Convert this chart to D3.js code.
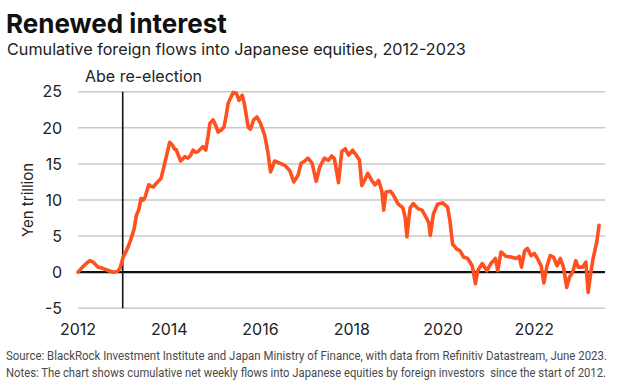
<!DOCTYPE html>
<html lang="en">
<head>
    <meta charset="UTF-8">
    <title>Renewed interest</title>
    <script src="https://d3js.org/d3.v7.min.js"></script>
    <style>
        body { margin: 0; background: #fff; }
        svg { display: block; font-family: Inter, "Noto Sans", sans-serif; }
        .grid line { stroke: #c9c9c9; stroke-width: 1.5; }
        .tick-label { font-size: 16px; fill: #222; }
        .note { font-family: Roboto, "Liberation Sans", sans-serif; font-size: 13px; fill: #4a4a4a; }
    </style>
</head>
<body>
<div id="chart"></div>
<script>
    // decimal year and cumulative flows (Yen trillion)
    const dates = [
        2012.00, 2012.10, 2012.18, 2012.26, 2012.33, 2012.44, 2012.52, 2012.59, 2012.68, 2012.77, 2012.86, 2012.92,
        2012.99, 2013.07, 2013.14, 2013.23, 2013.28, 2013.33, 2013.38, 2013.43, 2013.47, 2013.55, 2013.60, 2013.65,
        2013.73, 2013.82, 2013.89, 2013.95, 2014.01, 2014.07, 2014.12, 2014.15, 2014.20, 2014.25, 2014.34, 2014.41,
        2014.47, 2014.52, 2014.58, 2014.63, 2014.69, 2014.74, 2014.80, 2014.85, 2014.89, 2014.96, 2015.02, 2015.07,
        2015.14, 2015.20, 2015.25, 2015.29, 2015.35, 2015.40, 2015.47, 2015.53, 2015.60, 2015.65, 2015.73, 2015.78,
        2015.85, 2015.92, 2016.00, 2016.09, 2016.16, 2016.22, 2016.31, 2016.42, 2016.53, 2016.64, 2016.73, 2016.82,
        2016.89, 2016.97, 2017.04, 2017.13, 2017.22, 2017.30, 2017.40, 2017.49, 2017.56, 2017.62, 2017.71, 2017.78,
        2017.86, 2017.93, 2018.02, 2018.10, 2018.17, 2018.22, 2018.28, 2018.35, 2018.44, 2018.51, 2018.59, 2018.66,
        2018.70, 2018.75, 2018.85, 2018.91, 2019.01, 2019.12, 2019.17, 2019.21, 2019.25, 2019.28, 2019.35, 2019.45,
        2019.54, 2019.63, 2019.69, 2019.72, 2019.76, 2019.79, 2019.88, 2019.99, 2020.10, 2020.15, 2020.21, 2020.30,
        2020.37, 2020.45, 2020.54, 2020.64, 2020.71, 2020.76, 2020.86, 2020.96, 2021.05, 2021.15, 2021.20, 2021.27,
        2021.38, 2021.49, 2021.60, 2021.67, 2021.72, 2021.79, 2021.85, 2021.93, 2022.00, 2022.07, 2022.15, 2022.21,
        2022.28, 2022.35, 2022.42, 2022.50, 2022.57, 2022.64, 2022.71, 2022.77, 2022.84, 2022.91, 2022.96, 2023.06,
        2023.13, 2023.18, 2023.24, 2023.29, 2023.37, 2023.42
    ];
    const flows = [
        0.0, 0.7, 1.2, 1.6, 1.4, 0.7, 0.6, 0.4, 0.2, 0.0, 0.1, 0.5,
        2.1, 3.1, 4.2, 6.0, 7.9, 8.6, 10.2, 10.0, 10.4, 12.1, 11.9, 11.8,
        12.4, 13.0, 14.8, 16.4, 18.0, 17.6, 17.0, 17.0, 16.2, 15.4, 16.0, 15.8,
        16.2, 16.9, 16.6, 16.7, 17.1, 17.4, 16.9, 18.8, 20.6, 21.1, 20.3, 19.4,
        19.7, 20.1, 21.8, 23.4, 24.2, 24.9, 24.8, 23.8, 24.5, 23.2, 20.1, 19.8,
        21.1, 21.5, 20.6, 19.0, 16.7, 13.9, 15.4, 15.1, 14.8, 14.1, 12.5, 13.4,
        15.1, 15.4, 15.8, 15.1, 12.6, 14.6, 15.8, 15.5, 16.1, 15.7, 12.4, 16.7,
        17.1, 16.2, 16.9, 16.2, 15.5, 12.0, 12.7, 13.7, 12.7, 12.1, 12.7, 11.2,
        8.6, 11.1, 11.2, 10.7, 9.5, 8.9, 7.6, 4.9, 7.4, 8.9, 9.5, 8.8,
        8.6, 7.6, 6.8, 5.1, 6.8, 8.1, 9.4, 9.6, 9.0, 7.2, 3.9, 3.2,
        3.0, 2.1, 1.9, 0.9, -1.6, 0.2, 1.2, 0.2, 1.2, 1.9, 0.2, 2.8,
        2.2, 2.1, 1.9, 2.2, 0.7, 3.0, 3.3, 2.3, 2.6, 1.9, 0.9, -1.5,
        0.9, 2.3, 2.1, 0.9, 1.9, 0.7, -2.1, -0.7, 0.0, 1.6, 0.7, 0.7,
        1.4, -2.8, 0.0, 1.9, 4.2, 6.5
    ];
    const yTicks = [-5, 0, 5, 10, 15, 20, 25];
    const xTicks = [2012, 2014, 2016, 2018, 2020, 2022];
    const abeElection = 2012.98;

    const width = 623, height = 389;
    const margin = { left: 78, right: 18, top: 91.7, bottom: 80.7 };

    const svg = d3.select("#chart").append("svg")
        .attr("width", width)
        .attr("height", height);

    const x = d3.scaleLinear()
        .domain([2012, 2023.55])
        .range([margin.left, width - margin.right]);

    const y = d3.scaleLinear()
        .domain([-5, 25])
        .range([height - margin.bottom, margin.top]);

    // titles
    svg.append("text")
        .attr("x", 6).attr("y", 33)
        .style("font-size", "26px").style("font-weight", 700).style("fill", "#111")
        .text("Renewed interest");
    svg.append("text")
        .attr("x", 7).attr("y", 55)
        .style("font-size", "16.2px").style("fill", "#222")
        .text("Cumulative foreign flows into Japanese equities, 2012-2023");

    // gridlines
    svg.append("g").attr("class", "grid")
        .selectAll("line")
        .data(yTicks.filter(d => d !== 0))
        .enter().append("line")
        .attr("x1", x.range()[0]).attr("x2", x.range()[1])
        .attr("y1", d => y(d)).attr("y2", d => y(d));

    // y axis labels
    svg.append("g")
        .selectAll("text")
        .data(yTicks)
        .enter().append("text")
        .attr("class", "tick-label")
        .attr("x", 62)
        .attr("y", d => y(d))
        .attr("dy", "0.36em")
        .attr("text-anchor", "end")
        .text(d => d);

    svg.append("text")
        .attr("transform", `translate(33, ${y(10)}) rotate(-90)`)
        .attr("text-anchor", "middle")
        .style("font-size", "15px").style("fill", "#222")
        .text("Yen trillion");

    // x axis labels
    svg.append("g")
        .selectAll("text")
        .data(xTicks)
        .enter().append("text")
        .attr("class", "tick-label")
        .attr("x", d => x(d))
        .attr("y", 335)
        .attr("text-anchor", "middle")
        .text(d => d);

    // Abe re-election marker
    svg.append("line")
        .attr("x1", x(abeElection)).attr("x2", x(abeElection))
        .attr("y1", y(25)).attr("y2", y(-5))
        .attr("stroke", "#111").attr("stroke-width", 1.6);
    svg.append("text")
        .attr("x", 85).attr("y", 82)
        .style("font-size", "16px").style("fill", "#222")
        .text("Abe re-election");

    // zero line
    svg.append("line")
        .attr("x1", x.range()[0]).attr("x2", x.range()[1])
        .attr("y1", y(0)).attr("y2", y(0))
        .attr("stroke", "#111").attr("stroke-width", 2.2);

    // flows line
    const line = d3.line()
        .x((d, i) => x(dates[i]))
        .y(d => y(d));

    svg.append("path")
        .datum(flows)
        .attr("d", line)
        .attr("fill", "none")
        .attr("stroke", "#ff5020")
        .attr("stroke-width", 3.6)
        .attr("stroke-linejoin", "round")
        .attr("stroke-linecap", "round");

    // source and notes, squeezed horizontally like the condensed original
    const squeeze = 0.82;
    const notes = [
        { y: 360, len: 601, text: "Source: BlackRock Investment Institute and Japan Ministry of Finance, with data from Refinitiv Datastream, June 2023." },
        { y: 377, len: 600, text: "Notes: The chart shows cumulative net weekly flows into Japanese equities by foreign investors  since the start of 2012." }
    ];
    svg.append("g")
        .selectAll("text")
        .data(notes)
        .enter().append("text")
        .attr("class", "note")
        .attr("transform", d => `translate(6, ${d.y}) scale(${squeeze}, 1)`)
        .attr("textLength", d => d.len / squeeze)
        .attr("lengthAdjust", "spacingAndGlyphs")
        .style("white-space", "pre")
        .text(d => d.text);
</script>
</body>
</html>
